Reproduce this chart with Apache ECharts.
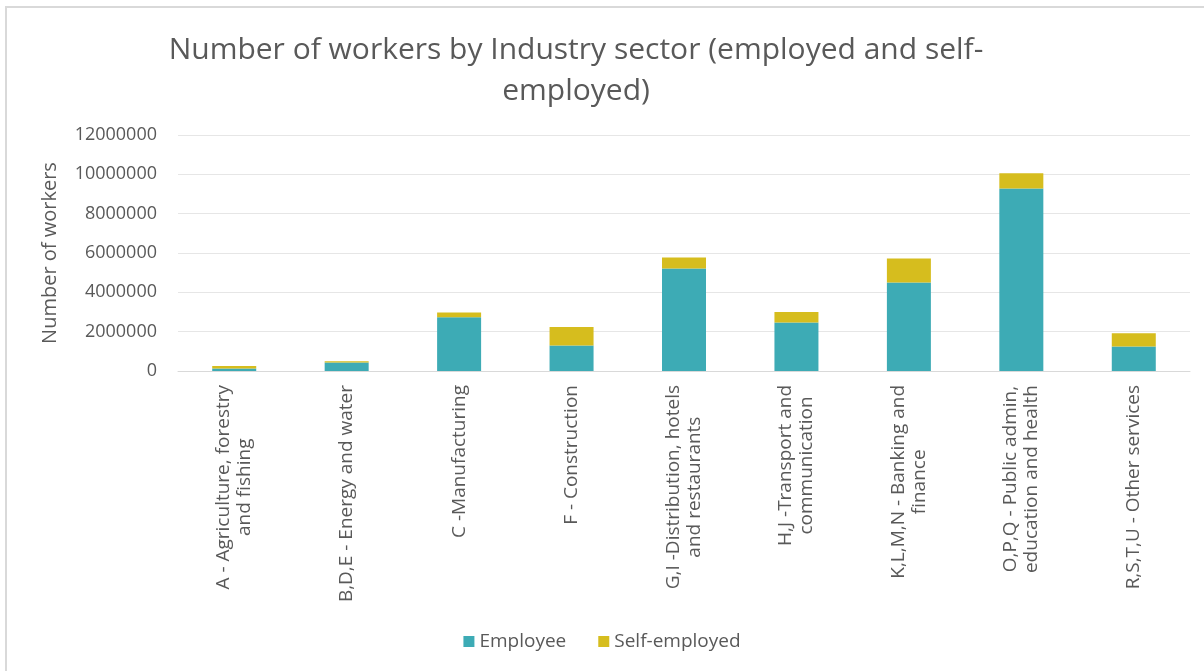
<!DOCTYPE html>
<html>
<head>
<meta charset="utf-8">
<script src="https://cdn.jsdelivr.net/npm/echarts@6/dist/echarts.min.js"></script>
<style>
  html, body { margin: 0; padding: 0; background: #fff; }
  #frame { position: absolute; left: 5px; top: 6px; width: 1300px; height: 800px; border-left: 2px solid #d9d9d9; border-top: 2px solid #d9d9d9; }
  #chart { position: absolute; left: 0; top: 0; width: 1204px; height: 671px; }
</style>
</head>
<body>
<div id="frame"></div>
<div id="chart"></div>
<script>
const titleText = 'Number of workers by Industry sector (employed and self-\nemployed)';
const yAxisName = 'Number of workers';
const categories = [
  'A - Agriculture, forestry\nand fishing',
  'B,D,E - Energy and water',
  'C -Manufacturing',
  'F - Construction',
  'G,I -Distribution, hotels\nand restaurants',
  'H,J -Transport and\ncommunication',
  'K,L,M,N - Banking and\nfinance',
  'O,P,Q - Public admin,\neducation and health',
  'R,S,T,U - Other services'
];
const employee = [130000, 430000, 2730000, 1300000, 5210000, 2460000, 4500000, 9280000, 1240000];
const selfEmployed = [130000, 65000, 240000, 940000, 560000, 540000, 1220000, 770000, 680000];
const seriesNames = ['Employee', 'Self-employed'];

const textColor = '#595959';
const chart = echarts.init(document.getElementById('chart'), null, { renderer: 'canvas' });
chart.setOption({
  animation: false,
  textStyle: { fontFamily: 'Open Sans' },
  title: {
    text: titleText,
    left: 571, textAlign: 'center', top: 25,
    textStyle: { fontFamily: 'Open Sans', fontWeight: 400, fontSize: 30, color: textColor, lineHeight: 41 }
  },
  legend: {
    data: seriesNames,
    left: 'center', top: 627, itemGap: 32,
    itemWidth: 11, itemHeight: 11, icon: 'rect',
    textStyle: { fontFamily: 'Open Sans', fontSize: 19, color: textColor }
  },
  grid: { left: 178, right: 14, top: 135, bottom: 300, containLabel: false },
  xAxis: {
    type: 'category',
    data: categories,
    axisLine: { lineStyle: { color: '#d9d9d9' } },
    axisTick: { show: false },
    axisLabel: {
      interval: 0, rotate: 90, margin: 14,
      color: textColor, fontSize: 19, fontFamily: 'Open Sans',
      formatter: v => v.split('\n').map(l => '{c|' + l + '}').join('\n'),
      rich: { c: { align: 'center', fontSize: 19, color: textColor, fontFamily: 'Open Sans', lineHeight: 21 } }
    }
  },
  yAxis: {
    type: 'value', min: 0, max: 12000000, interval: 2000000,
    name: yAxisName, nameLocation: 'middle', nameGap: 118,
    nameTextStyle: { fontFamily: 'Open Sans', fontSize: 20, color: textColor },
    axisLine: { show: false }, axisTick: { show: false },
    splitLine: { lineStyle: { color: '#e6e6e6', width: 1 } },
    axisLabel: { color: textColor, fontSize: 18, margin: 21, fontFamily: 'Open Sans', formatter: v => String(v) }
  },
  series: [
    { name: seriesNames[0], type: 'bar', stack: 'total', data: employee, barWidth: 44,
      itemStyle: { color: '#3DABB5' } },
    { name: seriesNames[1], type: 'bar', stack: 'total', data: selfEmployed, barWidth: 44,
      itemStyle: { color: '#D6BD1E' } }
  ]
});
</script>
</body>
</html>
